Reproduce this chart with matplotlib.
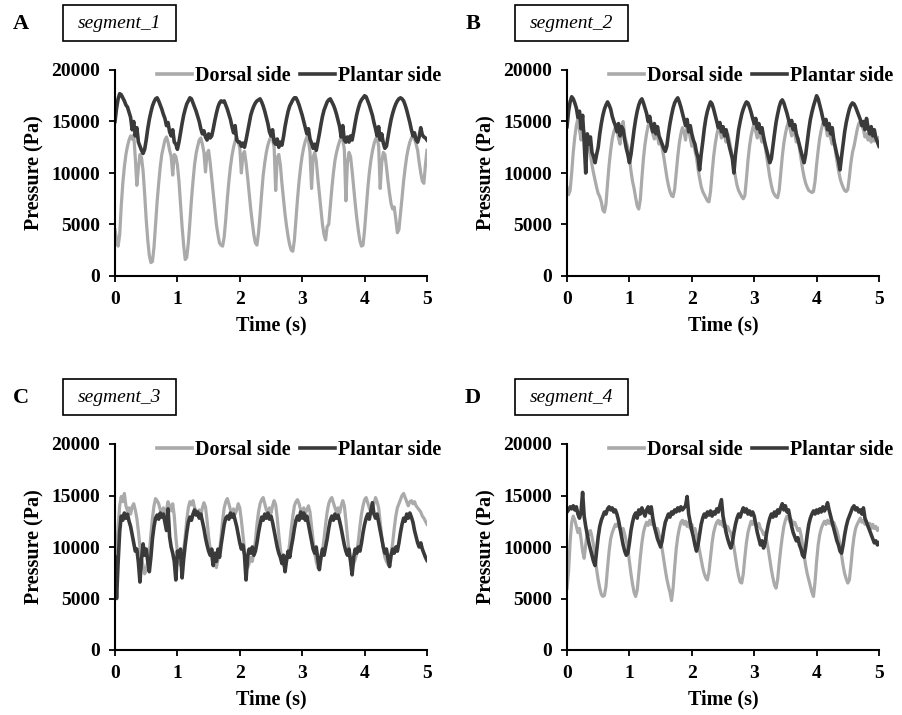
import numpy as np
import matplotlib
matplotlib.use("Agg")
import matplotlib.pyplot as plt
from matplotlib.patches import Rectangle

# sampling interval of the traces (s)
DT = 0.025

# pressure, in kPa, one value every 0.025 s from 0 to 5 s
seg1_dorsal = [
    4.5, 3.6, 2.9, 4.0, 6.8, 9.0, 10.6, 11.8, 12.6, 13.2, 13.6, 13.3, 13.7, 11.5, 8.8, 10.5, 11.8, 11.5, 10.2, 8.0,
    5.5, 3.5, 2.0, 1.3, 1.4, 2.8, 5.0, 7.2, 9.0, 10.6, 11.8, 12.5, 13.2, 13.5, 13.0, 12.2, 11.6, 9.8, 11.8, 11.6,
    10.8, 9.2, 7.0, 4.8, 3.0, 1.6, 1.8, 3.2, 5.2, 7.4, 9.2, 10.8, 11.9, 12.6, 13.2, 13.4, 12.8, 12.0, 10.1, 11.9,
    12.2, 11.0, 9.5, 8.0, 6.5, 5.0, 4.0, 3.2, 3.0, 2.9, 3.8, 5.5, 7.5, 9.2, 10.6, 11.7, 12.5, 13.1, 13.5, 13.0,
    12.4, 10.0, 11.8, 12.1, 11.0, 9.6, 8.0, 6.5, 5.2, 4.0, 3.2, 3.0, 4.2, 6.0, 8.0, 9.8, 11.0, 12.0, 12.7, 13.2,
    13.5, 13.3, 12.5, 8.3, 11.5, 11.8, 10.8, 9.0, 7.5, 6.0, 4.8, 3.8, 3.0, 2.5, 2.4, 3.5, 5.5, 7.5, 9.2, 10.6,
    11.7, 12.5, 13.1, 13.5, 13.2, 12.0, 8.5, 11.5, 12.0, 11.2, 9.5, 8.0, 6.5, 5.0, 4.0, 3.5, 4.8, 5.0, 6.8, 8.5,
    10.0, 11.2, 12.0, 12.6, 13.1, 13.5, 13.2, 12.3, 7.3, 11.0, 12.0, 11.6, 10.2, 8.6, 7.0, 5.6, 4.4, 3.4, 2.9, 3.0,
    4.5, 6.5, 8.4, 10.0, 11.2, 12.1, 12.8, 13.3, 13.5, 12.6, 8.5, 11.0, 12.0, 11.8, 10.6, 9.2, 8.0, 7.0, 6.5, 6.7,
    5.5, 4.2, 4.5, 6.0, 7.6, 9.2, 10.5, 11.6, 12.4, 13.0, 13.4, 13.6, 13.3, 12.8, 12.2, 11.0, 10.0, 9.2, 9.0, 10.8,
    12.2,
]
seg1_plantar = [
    15.0, 16.3, 17.2, 17.7, 17.6, 17.3, 17.0, 16.6, 16.4, 15.9, 15.4, 14.2, 15.0, 13.6, 14.4, 13.0, 12.6, 12.2, 11.9, 12.3,
    13.2, 14.3, 15.2, 15.9, 16.5, 16.9, 17.2, 17.3, 17.0, 16.6, 16.2, 15.7, 15.3, 14.6, 14.9, 14.0, 13.6, 14.2, 13.0, 12.8,
    12.3, 13.0, 13.9, 14.8, 15.6, 16.2, 16.7, 17.0, 17.3, 17.2, 16.8, 16.4, 16.0, 15.5, 15.0, 14.3, 13.8, 14.1, 13.5, 13.2,
    13.8, 13.4, 13.6, 14.3, 15.1, 15.8, 16.4, 16.8, 17.0, 16.9, 17.0, 16.6, 16.2, 15.7, 15.2, 14.5, 13.9, 14.6, 13.2, 13.0,
    13.0, 12.6, 12.9, 12.5, 13.2, 14.0, 14.8, 15.6, 16.1, 16.5, 16.8, 17.0, 17.1, 17.2, 16.9, 16.5, 16.0, 15.4, 14.8, 14.0,
    13.6, 14.2, 13.0, 12.8, 13.3, 12.5, 13.0, 12.7, 13.5, 14.5, 15.3, 16.0, 16.5, 16.8, 17.1, 17.3, 17.3, 17.0, 16.6, 16.1,
    15.6, 15.0, 14.4, 13.8, 14.3, 13.3, 12.9, 12.4, 12.8, 12.2, 13.0, 13.8, 14.7, 15.5, 16.1, 16.5, 16.9, 17.1, 17.2, 16.9,
    16.6, 16.2, 15.7, 15.1, 14.5, 13.5, 14.6, 13.2, 13.0, 13.5, 13.0, 13.6, 13.2, 14.0, 14.9, 15.7, 16.3, 16.8, 17.1, 17.3,
    17.5, 17.4, 17.0, 16.6, 16.1, 15.6, 14.9, 14.3, 13.6, 14.5, 13.2, 13.8, 12.9, 12.4, 12.6, 13.5, 14.4, 15.2, 15.8, 16.3,
    16.7, 17.0, 17.2, 17.3, 17.2, 17.0, 16.6, 16.1, 15.5, 14.9, 14.2, 13.6, 13.9, 13.2, 13.0, 13.5, 14.4, 13.7, 13.5, 13.4,
    13.2,
]
seg2_dorsal = [
    8.6, 7.9, 8.3, 10.0, 12.0, 13.5, 14.6, 15.3, 14.2, 13.2, 14.5, 14.0, 13.3, 13.0, 12.6, 11.8, 10.8, 10.0, 9.3, 8.6,
    8.0, 7.7, 7.2, 6.4, 6.2, 7.0, 9.0, 10.8, 12.2, 13.3, 14.0, 14.4, 14.3, 13.4, 12.8, 14.5, 15.0, 13.6, 13.0, 12.5,
    11.5, 10.2, 9.2, 8.5, 7.6, 6.8, 6.5, 7.4, 9.5, 11.4, 12.8, 13.8, 14.6, 15.0, 14.4, 13.8, 13.3, 14.0, 13.5, 12.8,
    13.2, 12.4, 11.6, 10.6, 9.6, 8.8, 8.2, 7.8, 7.7, 8.4, 10.0, 11.6, 12.9, 13.8, 14.4, 14.0, 13.2, 14.6, 14.2, 13.4,
    12.6, 13.2, 12.2, 11.5, 10.4, 9.5, 8.7, 8.2, 7.9, 7.6, 7.3, 7.2, 8.2, 10.0, 11.6, 12.8, 13.7, 14.4, 14.2, 13.4,
    14.5, 13.6, 13.0, 13.8, 13.2, 12.4, 11.5, 10.5, 9.6, 8.8, 8.3, 8.0, 7.7, 7.5, 7.8, 9.4, 11.2, 12.6, 13.6, 14.3,
    14.8, 14.0, 13.4, 14.2, 13.6, 13.0, 13.5, 12.6, 11.6, 10.6, 9.6, 8.8, 8.2, 7.9, 7.7, 7.6, 8.3, 10.0, 11.6, 12.9,
    13.8, 14.5, 15.0, 14.3, 13.6, 14.4, 13.8, 13.0, 13.4, 12.4, 11.4, 10.4, 9.6, 9.0, 8.6, 8.3, 8.2, 8.1, 8.2, 9.2,
    10.8, 12.2, 13.4, 14.2, 14.8, 15.1, 14.4, 13.6, 14.2, 13.4, 12.8, 13.3, 12.2, 11.2, 10.3, 9.5, 9.0, 8.6, 8.3, 8.2,
    8.4, 9.6, 11.0, 12.0, 12.6, 13.4, 14.2, 14.8, 15.0, 14.6, 14.2, 13.5, 13.8, 13.2, 13.6, 13.0, 13.4, 13.1, 13.5, 13.2,
    13.4,
]
seg2_plantar = [
    14.5, 16.0, 16.9, 17.4, 17.2, 16.8, 16.3, 15.4, 16.0, 14.3, 15.6, 13.0, 10.0, 13.8, 12.8, 13.5, 12.0, 11.6, 11.0, 11.8,
    12.5, 13.8, 14.8, 15.6, 16.2, 16.6, 16.9, 16.6, 16.2, 15.5, 15.0, 14.6, 14.0, 14.8, 13.6, 14.5, 14.2, 13.2, 12.4, 11.8,
    11.0, 11.8, 13.0, 14.2, 15.2, 16.0, 16.6, 17.0, 17.2, 16.8, 16.3, 15.8, 15.0, 15.5, 14.6, 14.0, 14.8, 13.8, 14.5, 13.6,
    13.2, 12.8, 12.4, 12.1, 12.6, 13.8, 14.8, 15.6, 16.3, 16.8, 17.1, 17.3, 16.9, 16.4, 15.8, 15.2, 14.6, 15.2, 14.0, 14.6,
    13.8, 13.2, 12.8, 12.0, 11.5, 10.3, 11.8, 13.0, 14.3, 15.3, 16.0, 16.5, 16.9, 16.7, 16.2, 15.6, 15.0, 14.4, 14.9, 14.0,
    14.5, 13.6, 14.2, 13.4, 12.6, 12.0, 11.4, 10.0, 11.8, 13.0, 14.2, 15.0, 15.7, 16.2, 16.6, 16.9, 16.8, 16.4, 15.9, 15.3,
    14.8, 15.3, 14.3, 14.8, 13.9, 14.4, 13.5, 12.8, 12.2, 11.6, 11.0, 11.4, 12.6, 13.8, 14.9, 15.7, 16.4, 16.9, 17.1, 16.8,
    16.3, 15.8, 15.2, 14.6, 15.1, 14.2, 14.7, 13.8, 13.3, 12.7, 12.1, 11.5, 11.0, 11.8, 13.0, 14.2, 15.2, 15.9, 16.5, 17.0,
    17.5, 17.2, 16.6, 16.0, 15.3, 14.7, 15.2, 14.2, 14.8, 13.8, 14.4, 13.2, 12.5, 11.8, 11.2, 10.3, 11.6, 12.8, 14.0, 14.9,
    15.6, 16.2, 16.6, 16.8, 16.7, 16.4, 16.0, 15.6, 15.2, 14.6, 15.0, 14.2, 15.3, 14.4, 13.8, 14.5, 13.6, 14.2, 13.4, 13.0,
    12.6,
]
seg3_dorsal = [
    7.5, 9.5, 12.0, 14.0, 14.9, 14.4, 15.2, 14.0, 13.5, 13.8, 13.2, 13.9, 14.2, 13.6, 12.8, 11.5, 10.0, 8.8, 8.2, 7.4,
    7.8, 8.6, 9.4, 11.2, 12.8, 14.0, 14.7, 14.5, 14.2, 13.6, 13.4, 13.8, 13.0, 13.6, 14.4, 14.0, 13.5, 14.2, 13.0, 11.0,
    9.5, 8.6, 8.2, 8.8, 9.6, 11.0, 12.6, 13.8, 14.4, 14.1, 14.5, 13.8, 13.5, 13.2, 13.6, 13.0, 13.8, 14.3, 13.9, 12.6,
    11.0, 9.8, 8.8, 8.2, 8.5, 8.0, 8.8, 9.6, 11.0, 12.6, 13.8, 14.4, 14.7, 14.2, 13.6, 13.3, 13.7, 13.2, 13.6, 14.2,
    13.8, 12.6, 11.2, 9.8, 8.6, 8.0, 8.4, 9.0, 8.6, 9.4, 10.6, 12.2, 13.4, 14.2, 14.6, 14.8, 14.2, 13.6, 13.4, 13.8,
    13.3, 14.0, 14.5, 14.1, 12.8, 11.2, 9.8, 8.8, 8.2, 8.0, 8.6, 9.2, 10.4, 11.8, 13.0, 14.0, 14.4, 14.6, 14.2, 13.6,
    13.4, 13.8, 13.2, 13.6, 14.0, 13.4, 12.0, 10.6, 9.4, 8.6, 8.0, 8.4, 8.8, 9.6, 10.8, 12.2, 13.4, 14.2, 14.6, 14.8,
    14.3, 13.8, 13.4, 13.8, 13.3, 14.0, 14.5, 14.0, 12.6, 11.0, 9.6, 8.6, 8.0, 8.4, 8.8, 9.4, 10.6, 12.0, 13.2, 14.0,
    14.6, 14.8, 14.3, 13.8, 13.4, 13.8, 14.2, 14.8, 14.4, 13.8, 12.4, 11.0, 9.8, 9.0, 8.6, 8.3, 8.8, 9.4, 10.4, 11.8,
    13.0, 13.8, 14.2, 14.6, 15.0, 15.2, 14.8, 14.4, 14.0, 14.4, 14.5, 14.2, 14.4, 14.0, 13.8, 13.6, 13.4, 13.0, 12.8, 12.5,
    12.2,
]
seg3_plantar = [
    9.0, 5.0, 8.5, 11.5, 13.0, 12.6, 13.3, 12.8, 13.2, 12.5, 12.0, 11.2, 10.4, 9.6, 9.8, 8.5, 6.6, 8.8, 10.3, 9.2,
    9.8, 8.6, 7.6, 9.0, 10.8, 12.0, 12.8, 13.1, 12.7, 13.3, 12.9, 13.2, 12.4, 11.6, 13.7, 11.0, 10.0, 9.4, 8.6, 6.8,
    9.6, 9.0, 9.8, 7.0, 8.8, 10.2, 11.4, 12.4, 12.9, 12.6, 13.2, 13.6, 13.1, 13.4, 12.8, 13.2, 12.5, 11.8, 10.9, 10.2,
    9.6, 9.2, 9.8, 8.2, 9.4, 8.6, 9.8, 9.0, 10.2, 11.2, 12.2, 12.8, 13.0, 12.7, 13.3, 12.9, 13.2, 12.6, 12.0, 11.2,
    10.4, 9.8, 10.2, 9.2, 6.8, 9.0, 9.8, 9.4, 10.0, 9.2, 9.6, 10.4, 11.4, 12.2, 12.9, 12.6, 13.2, 12.8, 13.3, 12.7,
    13.0, 12.4, 11.6, 10.8, 10.0, 9.4, 9.0, 8.4, 9.2, 7.6, 8.8, 9.6, 9.0, 10.0, 10.8, 11.8, 12.6, 13.0, 12.6, 13.4,
    12.8, 13.3, 12.6, 13.0, 12.2, 11.4, 10.6, 9.8, 9.4, 10.0, 8.8, 7.8, 9.0, 9.8, 9.2, 10.0, 10.8, 11.8, 12.6, 13.0,
    12.6, 13.2, 12.8, 13.1, 12.5, 11.8, 11.0, 10.2, 9.6, 9.2, 9.8, 8.6, 7.3, 9.0, 9.8, 9.4, 10.0, 9.6, 10.4, 11.4,
    12.2, 12.8, 13.2, 12.7, 13.5, 14.3, 13.2, 12.8, 13.2, 12.4, 11.6, 10.8, 10.0, 9.4, 9.8, 8.8, 8.1, 9.2, 9.8, 9.4,
    10.0, 9.6, 10.4, 11.4, 12.2, 12.8, 12.5, 13.2, 12.8, 13.3, 12.9, 12.4, 11.6, 11.0, 10.4, 10.0, 10.4, 9.8, 9.4, 9.0,
    8.7,
]
seg4_dorsal = [
    6.0, 7.6, 10.5, 12.4, 13.0, 12.6, 12.0, 11.4, 11.8, 10.8, 9.6, 8.9, 10.2, 11.5, 11.2, 11.6, 11.0, 10.2, 9.0, 7.8,
    6.8, 6.0, 5.4, 5.2, 5.3, 6.2, 8.0, 9.6, 10.8, 11.4, 11.8, 12.2, 12.0, 12.4, 11.8, 11.4, 11.8, 11.2, 10.6, 9.8,
    8.6, 7.4, 6.4, 5.6, 5.2, 5.8, 7.4, 9.0, 10.4, 11.4, 12.0, 12.4, 12.1, 12.6, 12.2, 12.5, 12.0, 11.6, 11.8, 11.2,
    10.6, 9.8, 8.8, 7.8, 6.9, 6.2, 5.6, 4.8, 6.0, 8.0, 9.8, 11.0, 11.8, 12.4, 12.6, 12.2, 12.5, 12.0, 12.4, 11.8,
    12.2, 11.6, 11.8, 11.2, 10.4, 9.6, 8.8, 8.0, 7.4, 7.0, 6.8, 7.6, 9.0, 10.4, 11.4, 12.0, 12.4, 12.6, 12.2, 12.5,
    12.0, 12.3, 11.8, 12.0, 11.6, 11.4, 10.8, 10.0, 9.0, 8.0, 7.2, 6.6, 6.5, 7.4, 9.0, 10.4, 11.4, 12.0, 12.5, 12.2,
    12.6, 12.2, 12.0, 12.3, 11.8, 11.6, 11.2, 11.4, 10.6, 9.8, 8.8, 7.8, 7.0, 6.3, 6.0, 6.8, 8.4, 9.8, 11.0, 12.0,
    12.6, 13.0, 12.8, 12.4, 12.6, 12.2, 12.4, 12.0, 11.6, 11.8, 11.2, 10.2, 9.2, 8.2, 7.4, 6.8, 6.2, 5.6, 5.2, 6.6,
    8.6, 10.2, 11.2, 11.8, 12.2, 12.5, 12.2, 12.6, 12.3, 12.5, 12.1, 12.4, 12.0, 11.6, 11.0, 10.2, 9.2, 8.2, 7.4, 6.9,
    6.5, 6.8, 8.2, 9.8, 11.0, 11.8, 12.2, 12.5, 12.8, 12.4, 12.6, 12.2, 12.5, 12.0, 12.3, 11.8, 12.2, 11.8, 12.0, 11.6,
    11.8,
]
seg4_plantar = [
    13.4, 13.6, 13.9, 13.7, 14.0, 13.6, 13.9, 13.2, 12.8, 13.4, 15.3, 13.0, 12.0, 11.2, 10.4, 9.8, 9.2, 8.6, 8.2, 9.6,
    11.0, 12.0, 12.6, 13.0, 13.4, 13.2, 13.7, 13.9, 13.6, 13.8, 13.4, 13.6, 13.2, 12.6, 11.8, 11.0, 10.2, 9.6, 9.2, 9.4,
    10.4, 11.6, 12.4, 13.0, 13.3, 12.8, 13.6, 13.2, 13.8, 13.4, 13.0, 13.6, 13.9, 13.3, 13.9, 12.8, 12.0, 11.4, 10.8, 10.4,
    10.0, 10.6, 11.6, 12.4, 12.8, 13.2, 12.9, 13.4, 13.2, 13.6, 13.4, 13.8, 13.5, 13.9, 13.6, 13.8, 14.0, 14.9, 13.2, 12.4,
    11.6, 11.0, 10.2, 9.6, 10.2, 11.2, 12.2, 12.8, 13.2, 12.9, 13.4, 13.1, 13.5, 13.0, 13.4, 13.2, 13.7, 13.4, 14.0, 14.6,
    13.0, 12.2, 11.4, 10.8, 10.3, 9.9, 10.4, 11.4, 12.2, 12.8, 13.2, 12.9, 13.4, 13.8, 13.4, 13.7, 13.2, 13.5, 13.1, 13.4,
    13.0, 12.2, 11.4, 10.8, 10.2, 10.6, 9.9, 10.4, 11.4, 12.2, 12.8, 13.2, 12.9, 13.4, 13.0, 13.6, 13.3, 13.8, 14.2, 13.6,
    14.0, 13.4, 13.6, 12.8, 12.0, 11.4, 11.0, 10.6, 10.9, 10.2, 9.8, 9.2, 9.0, 10.0, 11.2, 12.2, 12.8, 13.2, 13.5, 13.2,
    13.6, 13.3, 13.7, 13.4, 13.9, 13.5, 13.8, 14.3, 13.6, 13.0, 12.4, 11.8, 11.2, 10.6, 10.2, 9.6, 9.4, 10.2, 11.2, 12.0,
    12.6, 13.0, 13.4, 13.8, 14.0, 13.6, 13.8, 13.4, 13.6, 13.2, 13.8, 12.8, 12.4, 12.0, 11.6, 11.2, 10.8, 10.4, 10.6, 10.2,
    10.4,
]

panel_letters = ["A", "B", "C", "D"]
panel_titles = ["segment_1", "segment_2", "segment_3", "segment_4"]
series_labels = ["Dorsal side", "Plantar side"]
y_ticks = [0, 5000, 10000, 15000, 20000]
x_ticks = [0, 1, 2, 3, 4, 5]

panels = [
    (seg1_dorsal, seg1_plantar),
    (seg2_dorsal, seg2_plantar),
    (seg3_dorsal, seg3_plantar),
    (seg4_dorsal, seg4_plantar),
]

LIGHT = "#aaaaaa"
DARK = "#3a3a3a"

plt.rcParams["font.family"] = ["Liberation Serif", "DejaVu Serif"]
plt.rcParams["font.weight"] = "bold"

W, H = 902, 715
fig = plt.figure(figsize=(W / 100, H / 100), dpi=100)
fig.patch.set_facecolor("white")

# panel origins in pixels (top-left)
origins = [(0, 0), (452, 0), (0, 374), (452, 374)]

for k, ((dorsal, plantar), (ox, oy)) in enumerate(zip(panels, origins)):
    left, top, aw, ah = ox + 115, oy + 70, 312, 206
    ax = fig.add_axes([left / W, 1 - (top + ah) / H, aw / W, ah / H])

    t = np.arange(len(dorsal)) * DT
    ax.plot(t, np.array(dorsal) * 1000, color=LIGHT, lw=2.3, label=series_labels[0])
    ax.plot(t, np.array(plantar) * 1000, color=DARK, lw=2.6, label=series_labels[1])

    ax.set_xlim(0, 5)
    ax.set_ylim(0, 20000)
    ax.set_xticks(x_ticks)
    ax.set_yticks(y_ticks)
    for s in ("top", "right"):
        ax.spines[s].set_visible(False)
    for s in ("left", "bottom"):
        ax.spines[s].set_linewidth(1.5)
    ax.tick_params(direction="out", length=4.5, width=1.3, labelsize=14, pad=6)

    ax.set_xlabel("Time (s)", fontsize=14.5, fontweight="bold", labelpad=6)
    ax.set_ylabel("Pressure (Pa)", fontsize=14.5, fontweight="bold", labelpad=5)

    leg = ax.legend(ncol=2, frameon=False, loc="center right", bbox_to_anchor=(1.045, 0.97),
                    handlelength=1.75, handletextpad=0.15, columnspacing=0.45,
                    borderpad=0, borderaxespad=0,
                    prop={"weight": "bold", "size": 14.5})
    for h in leg.get_lines():
        h.set_linewidth(2.6)

    # panel letter and boxed segment name
    fig.text((ox + 21) / W, 1 - (oy + 24) / H, panel_letters[k], fontsize=16,
             fontweight="bold", ha="center", va="center")
    bx0, bx1, by0, by1 = ox + 63, ox + 176, oy + 5, oy + 41
    fig.add_artist(Rectangle((bx0 / W, 1 - by1 / H), (bx1 - bx0) / W, (by1 - by0) / H,
                             transform=fig.transFigure, fill=False, edgecolor="black", lw=1.2))
    fig.text((bx0 + bx1) / 2 / W, 1 - (by0 + by1) / 2 / H, panel_titles[k], fontsize=14,
             fontstyle="italic", fontweight="normal", ha="center", va="center")

fig.savefig("out.png", dpi=100, facecolor="white")
